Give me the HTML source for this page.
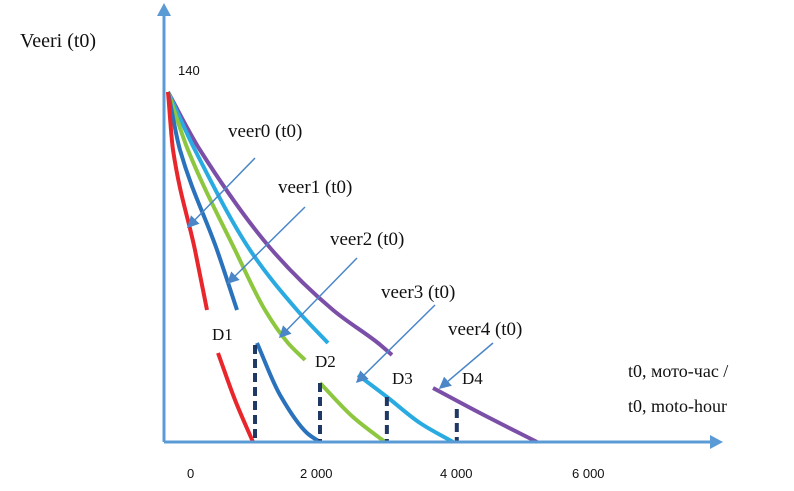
<!DOCTYPE html>
<html><head><meta charset="utf-8"><style>
body{margin:0;background:#fff;width:794px;height:491px;overflow:hidden}
svg{display:block}
.s{font-family:"Liberation Serif","Noto Serif CJK SC",serif;fill:#111}
.a{font-family:"Liberation Sans","Noto Sans CJK SC",sans-serif;fill:#111}
</style></head><body>
<svg id="c" width="794" height="491">
<defs><marker id="ah" markerWidth="8" markerHeight="8" refX="7" refY="4" orient="auto"><path d="M0,0 L8,4 L0,8 z" fill="#4a86c8"/></marker></defs>
<g id="curves"></g>
<g id="dash"></g>
<line x1="164" y1="442" x2="164" y2="14" stroke="#5b9bd5" stroke-width="3"/>
<path d="M157,16 L164,3 L171,16 z" fill="#5b9bd5"/>
<line x1="164" y1="442" x2="712" y2="442" stroke="#5b9bd5" stroke-width="3"/>
<path d="M710,435 L723,442 L710,449 z" fill="#5b9bd5"/>
<text class="s" x="20" y="47" font-size="20">Veeri (t0)</text>
<text class="a" x="178" y="75" font-size="13">140</text>
<g id="xt"></g>
<text class="s" x="628" y="377" font-size="18">t0, мото-час /</text>
<text class="s" x="628" y="412" font-size="18">t0, moto-hour</text>
<g id="labels"></g>
</svg>
<script>
const ticks=[0,2000,4000,6000];
const tickLabels=["0","2 000","4 000","6 000"];
const tickPx=[187,300,440,572];
const names=["veer0","veer1","veer2","veer3","veer4"];
// upper (before repair) and lower (after repair) segments, hours / value
const t0a=[0,66,355,513];        const v0a=[140,116.8,76.8,52.8];
const t0b=[658,882,1118];        const v0b=[35.6,16.8,0];
const t1a=[0,158,645,908];       const v1a=[140,116.8,76.8,52.8];
const t1b=[1171,1474,1829,2000]; const v1b=[39.6,18.8,3.6,0];
const t2a=[0,263,882,1276,1579,1803]; const v2a=[140,116.8,76.8,52.8,39.6,32.8];
const t2b=[2000,2434,2855];      const v2b=[23.6,10,0];
const t3a=[0,355,1079,1697,2105];const v3a=[140,116.8,76.8,52.8,39.6];
const t3b=[2500,2882,3316,3750]; const v3b=[26.8,18,7.6,0];
const t4a=[0,421,1368,2171,2763,2947]; const v4a=[140,116.8,76.8,52.8,39.6,34.8];
const t4b=[3487,4105,4855];      const v4b=[21.6,11.6,0];
const dHours=[1145,2000,2880,3800];
const dVals=[38.8,23.6,18,13.2];
const colors=["#e8262b","#2a72bb","#8dc63f","#29abe2","#7b4fa8"];
const X=t=>168+t*0.076, Y=v=>442-v*2.5;
const NS="http://www.w3.org/2000/svg";
function mk(tag,attrs,parent){const e=document.createElementNS(NS,tag);for(const k in attrs)e.setAttribute(k,attrs[k]);document.getElementById(parent).appendChild(e);return e;}
function mono(p){const n=p.length,d=[],m=[];for(let i=0;i<n-1;i++)d.push((p[i+1][1]-p[i][1])/(p[i+1][0]-p[i][0]));
m[0]=d[0];m[n-1]=d[n-2];for(let i=1;i<n-1;i++)m[i]=(d[i-1]*d[i]<=0)?0:2/(1/d[i-1]+1/d[i]);
let s=`M${p[0][0]},${p[0][1]}`;for(let i=0;i<n-1;i++){const h=(p[i+1][0]-p[i][0])/3;
s+=` C${p[i][0]+h},${p[i][1]+m[i]*h} ${p[i+1][0]-h},${p[i+1][1]-m[i+1]*h} ${p[i+1][0]},${p[i+1][1]}`;}return s;}
const segs=[[t4a,v4a,t4b,v4b,4],[t3a,v3a,t3b,v3b,3],[t2a,v2a,t2b,v2b,2],[t1a,v1a,t1b,v1b,1],[t0a,v0a,t0b,v0b,0]];
segs.forEach(s=>{const idx=s[4];
[[s[0],s[1],'upper'],[s[2],s[3],'lower']].forEach(g=>{const pts=g[0].map((t,i)=>[X(t),Y(g[1][i])]);
const el=mk("path",{d:mono(pts),fill:"none",stroke:colors[idx],"stroke-width":4},"curves");

});});
dHours.forEach((h,i)=>{const el=mk("line",{x1:X(h),x2:X(h),y1:Y(dVals[i]),y2:442,stroke:"#1f3864","stroke-width":4,"stroke-dasharray":"9,5"},"dash");

});
ticks.forEach((t,i)=>{const el=mk("text",{x:tickPx[i],y:478,"font-size":13,class:"a"},"xt");el.textContent=tickLabels[i];

});
const lab=[["veer0 (t0)",228,137,255,158,188,227],["veer1 (t0)",278,193,305,207,228,283],["veer2 (t0)",330,245,357,258,280,337],["veer3 (t0)",381,298,435,305,357,382],["veer4 (t0)",448,335,493,343,440,388]];
lab.forEach((l,i)=>{const t=mk("text",{x:l[1],y:l[2],"font-size":19,class:"s"},"labels");t.textContent=l[0];


const a=mk("line",{x1:l[3],y1:l[4],x2:l[5],y2:l[6],stroke:"#4a86c8","stroke-width":1.5,"marker-end":"url(#ah)"},"labels");

});
[["D1",212,340],["D2",315,367],["D3",392,384],["D4",462,384]].forEach((d,i)=>{const t=mk("text",{x:d[1],y:d[2],"font-size":17,class:"s"},"labels");t.textContent=d[0];

});
</script>
</body></html>
